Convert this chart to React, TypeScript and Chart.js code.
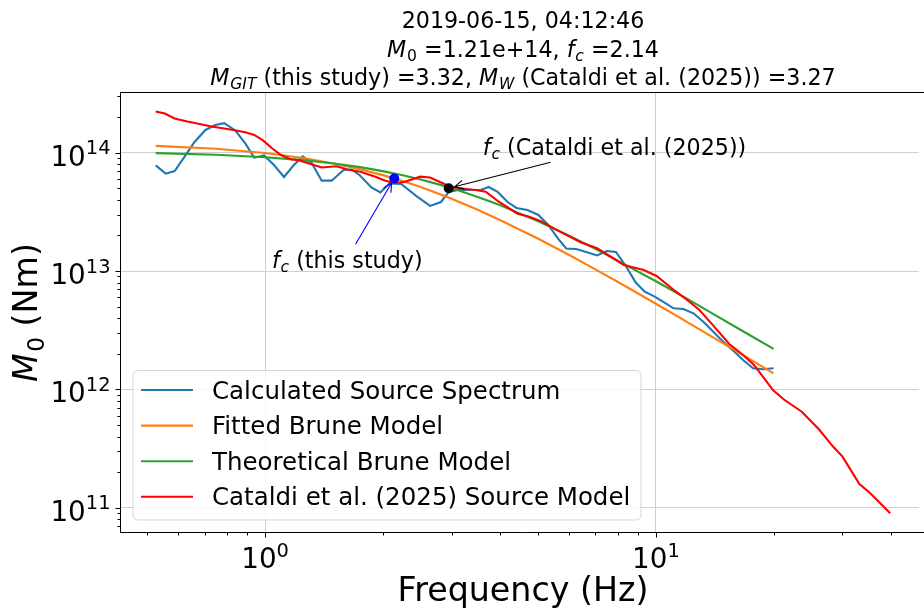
import React, { useEffect, useRef } from 'react';
import { Chart, registerables } from 'chart.js';

Chart.register(...registerables);

// ---------------- data ----------------
const spectrumFreq = [0.525, 0.557, 0.587, 0.622, 0.66, 0.704, 0.746, 0.786, 0.839, 0.89, 0.938, 0.994, 1.054, 1.118, 1.185, 1.249, 1.317, 1.396, 1.48, 1.588, 1.664, 1.744, 1.871, 1.972, 2.079, 2.23, 2.435, 2.643, 2.818, 2.954, 3.114, 3.32, 3.563, 3.734, 3.936, 4.173, 4.399, 4.692, 5.004, 5.304, 5.625, 5.894, 6.249, 6.627, 7.068, 7.494, 7.898, 8.375, 8.88, 9.361, 9.925, 10.52, 11.09, 11.76, 12.47, 13.22, 14.02, 14.86, 15.76, 16.71, 17.72, 18.78, 20.0];
const spectrumM0 = [7.8e13, 6.65e13, 7.0e13, 9.2e13, 1.231e14, 1.555e14, 1.714e14, 1.772e14, 1.54e14, 1.196e14, 9.07e13, 9.47e13, 7.87e13, 6.23e13, 7.87e13, 9.29e13, 8.14e13, 5.8e13, 5.8e13, 7.14e13, 7.21e13, 6.48e13, 5.08e13, 4.61e13, 5.49e13, 5.44e13, 4.31e13, 3.55e13, 3.83e13, 4.66e13, 4.84e13, 4.84e13, 4.84e13, 5.13e13, 4.66e13, 3.83e13, 3.41e13, 3.28e13, 2.98e13, 2.45e13, 1.867e13, 1.552e13, 1.537e13, 1.45e13, 1.354e13, 1.478e13, 1.45e13, 1.104e13, 8.01e12, 6.7e12, 6.08e12, 5.41e12, 4.85e12, 4.79e12, 4.4e12, 3.74e12, 3.08e12, 2.53e12, 2.13e12, 1.775e12, 1.511e12, 1.481e12, 1.511e12];

const modelFreq = [0.525, 0.75, 1.0, 1.25, 1.5, 1.75, 2.0, 2.25, 2.5, 2.75, 3.0, 3.5, 4.0, 5.0, 6.0, 7.0, 8.0, 10.0, 12.0, 14.0, 17.0, 20.0];
const fittedBruneM0 = [1.141e14, 1.078e14, 9.93e13, 9.02e13, 8.11e13, 7.25e13, 6.46e13, 5.75e13, 5.12e13, 4.56e13, 4.08e13, 3.29e13, 2.69e13, 1.873e13, 1.366e13, 1.034e13, 8.08e12, 5.3e12, 3.73e12, 2.76e12, 1.888e12, 1.37e12];
const theoreticalBruneM0 = [9.9e13, 9.6e13, 9.15e13, 8.65e13, 8.1e13, 7.55e13, 6.98e13, 6.44e13, 5.93e13, 5.45e13, 5.02e13, 4.23e13, 3.59e13, 2.63e13, 1.99e13, 1.54e13, 1.22e13, 8.2e12, 5.85e12, 4.35e12, 3.0e12, 2.2e12];

const cataldiFreq = [0.525, 0.554, 0.587, 0.633, 0.68, 0.729, 0.786, 0.844, 0.895, 0.938, 0.988, 1.042, 1.098, 1.164, 1.22, 1.309, 1.396, 1.524, 1.626, 1.754, 1.915, 2.031, 2.141, 2.27, 2.493, 2.643, 2.802, 2.954, 3.132, 3.459, 3.668, 3.936, 4.424, 4.72, 5.063, 5.495, 5.929, 6.435, 7.068, 7.626, 8.277, 9.305, 10.04, 11.15, 12.18, 12.92, 13.86, 15.4, 16.71, 17.82, 18.78, 19.92, 21.25, 23.61, 26.08, 28.31, 30.01, 33.16, 35.35, 39.74];
const cataldiM0 = [2.228e14, 2.143e14, 1.945e14, 1.834e14, 1.747e14, 1.664e14, 1.601e14, 1.54e14, 1.481e14, 1.411e14, 1.268e14, 1.089e14, 9.56e13, 8.8e13, 8.63e13, 8.03e13, 7.5e13, 7.68e13, 7.21e13, 6.91e13, 6.27e13, 5.8e13, 5.55e13, 5.65e13, 6.27e13, 6.17e13, 5.65e13, 5.23e13, 5.0e13, 4.84e13, 4.68e13, 3.91e13, 3.05e13, 2.89e13, 2.65e13, 2.28e13, 2.0e13, 1.744e13, 1.558e13, 1.334e13, 1.126e13, 1.022e13, 9.09e12, 6.86e12, 5.51e12, 4.69e12, 3.62e12, 2.42e12, 1.956e12, 1.61e12, 1.283e12, 9.9e11, 8.23e11, 6.49e11, 4.64e11, 3.33e11, 2.71e11, 1.592e11, 1.328e11, 9.0e10];

const fcThisStudy = { f: 2.14, m0: 6.05e13 };
const fcCataldi = { f: 2.95, m0: 5.0e13 };
// arrow tails / text anchors (data coordinates)
const fcThisStudyArrowFrom = { f: 1.704, m0: 1.684e13 };
const fcThisStudyText = { f: 1.041, m0: 1.062e13 };
const fcCataldiArrowFrom = { f: 5.377, m0: 8.3e13 };
const fcCataldiText = { f: 3.604, m0: 9.56e13 };

const xMajorTicks = [1, 10];
const xTickLabels = ['10^0', '10^1'];
const yMajorTicks = [1e11, 1e12, 1e13, 1e14];
const yTickLabels = ['10^11', '10^12', '10^13', '10^14'];

const xMin = 0.428;
const xMax = 47.1;
const yMin = 6.26e10;
const yMax = 3.19e14;

const seriesLabels = [
  'Calculated Source Spectrum',
  'Fitted Brune Model',
  'Theoretical Brune Model',
  'Cataldi et al. (2025) Source Model',
];
const seriesColors = ['#1f77b4', '#ff7f0e', '#2ca02c', '#ff0000'];

// ---------------- text helpers ----------------
const FONT = '"DejaVu Sans", "Liberation Sans", sans-serif';
type Seg = { t: string; it?: boolean; sub?: boolean; sup?: boolean };

function segFont(s: Seg, size: number) {
  const sz = s.sub || s.sup ? size * 0.7 : size;
  return `${s.it ? 'italic ' : ''}${sz}px ${FONT}`;
}
function segAdvance(ctx: CanvasRenderingContext2D, s: Seg, size: number) {
  ctx.font = segFont(s, size);
  let w = ctx.measureText(s.t).width;
  if (s.it && !s.sub && !s.sup) w += size * 0.04;
  return w;
}
function richWidth(ctx: CanvasRenderingContext2D, segs: Seg[], size: number) {
  let w = 0;
  for (const s of segs) w += segAdvance(ctx, s, size);
  return w;
}
function drawRich(ctx: CanvasRenderingContext2D, segs: Seg[], x: number, y: number, size: number, align: 'left' | 'center' | 'right', color = '#000') {
  const w = richWidth(ctx, segs, size);
  let cx = align === 'center' ? x - w / 2 : align === 'right' ? x - w : x;
  ctx.fillStyle = color;
  ctx.textAlign = 'left';
  ctx.textBaseline = 'alphabetic';
  for (const s of segs) {
    ctx.font = segFont(s, size);
    const dy = s.sub ? size * 0.2 : s.sup ? -size * 0.414 : 0;
    ctx.fillText(s.t, cx, y + dy);
    cx += segAdvance(ctx, s, size);
  }
}
function powerLabel(label: string): Seg[] {
  const [b, e] = label.split('^');
  return [{ t: b }, { t: e, sup: true }];
}

function drawArrow(ctx: CanvasRenderingContext2D, x0: number, y0: number, x1: number, y1: number, color: string, shrink: number) {
  const dx = x1 - x0, dy = y1 - y0;
  const len = Math.hypot(dx, dy);
  const ux = dx / len, uy = dy / len;
  const ex = x1 - ux * shrink, ey = y1 - uy * shrink;
  ctx.strokeStyle = color;
  ctx.lineWidth = 1.1;
  ctx.beginPath();
  ctx.moveTo(x0, y0);
  ctx.lineTo(ex, ey);
  const hl = 9, hw = 4.4;
  const px = -uy, py = ux;
  ctx.moveTo(ex - ux * hl + px * hw, ey - uy * hl + py * hw);
  ctx.lineTo(ex, ey);
  ctx.lineTo(ex - ux * hl - px * hw, ey - uy * hl - py * hw);
  ctx.stroke();
}

const decorPlugin = {
  id: 'decor',
  afterDraw(chart: any) {
    const { ctx, chartArea: a, scales } = chart;
    const xs = scales.x, ys = scales.y;
    ctx.save();

    // spines
    ctx.strokeStyle = '#000';
    ctx.lineWidth = 1;
    const L = Math.round(a.left) - 0.5;
    const B = Math.round(a.bottom) + 0.5;
    const T = Math.round(a.top) - 0.5;
    ctx.beginPath();
    ctx.moveTo(L, T); ctx.lineTo(a.right + 5, T);
    ctx.moveTo(L, T); ctx.lineTo(L, B); ctx.lineTo(a.right + 5, B);
    ctx.stroke();

    // tick marks (major & minor)
    ctx.beginPath();
    for (let e = -1; e <= 1; e++) {
      for (let m = 1; m <= 9; m++) {
        const v = m * Math.pow(10, e);
        if (v < xMin || v > xMax) continue;
        const px = Math.round(xs.getPixelForValue(v)) + 0.5;
        const len = m === 1 ? 5 : 3;
        ctx.moveTo(px, B); ctx.lineTo(px, B + len);
      }
    }
    for (let e = 10; e <= 14; e++) {
      for (let m = 1; m <= 9; m++) {
        const v = m * Math.pow(10, e);
        if (v < yMin || v > yMax) continue;
        const py = Math.round(ys.getPixelForValue(v)) + 0.5;
        const len = m === 1 ? 5 : 3;
        ctx.moveTo(L, py); ctx.lineTo(L - len, py);
      }
    }
    ctx.stroke();

    // tick labels
    const tickSize = 27.8;
    xMajorTicks.forEach((v, i) => {
      const px = xs.getPixelForValue(v);
      drawRich(ctx, powerLabel(xTickLabels[i]), px, B + 10 + 25.7, tickSize, 'center');
    });
    yMajorTicks.forEach((v, i) => {
      const py = ys.getPixelForValue(v);
      drawRich(ctx, powerLabel(yTickLabels[i]), L - 10, py + 13, tickSize, 'right');
    });

    // axis labels
    const cx = (a.left + a.right) / 2 + 3;
    drawRich(ctx, [{ t: 'Frequency (Hz)' }], cx, 601, 33.3, 'center');
    ctx.save();
    ctx.translate(37, (a.top + a.bottom) / 2);
    ctx.rotate(-Math.PI / 2);
    drawRich(ctx, [{ t: 'M', it: true }, { t: '0', sub: true }, { t: ' (Nm)' }], 0, 0, 33.3, 'center');
    ctx.restore();

    // title
    const ts = 22.2;
    drawRich(ctx, [{ t: '2019-06-15, 04:12:46' }], cx, 28, ts, 'center');
    drawRich(ctx, [
      { t: 'M', it: true }, { t: '0', sub: true }, { t: ' =1.21e+14, ' },
      { t: 'f', it: true }, { t: 'c', it: true, sub: true }, { t: ' =2.14' },
    ], cx, 56.5, ts, 'center');
    drawRich(ctx, [
      { t: 'M', it: true }, { t: 'GIT', it: true, sub: true }, { t: ' (this study) =3.32, ' },
      { t: 'M', it: true }, { t: 'W', it: true, sub: true }, { t: ' (Cataldi et al. (2025)) =3.27' },
    ], cx, 84.5, ts, 'center');

    // annotations
    const p = (o: { f: number; m0: number }) => [xs.getPixelForValue(o.f), ys.getPixelForValue(o.m0)];
    const [bx0, by0] = p(fcThisStudyArrowFrom);
    const [bx1, by1] = p(fcThisStudy);
    drawArrow(ctx, bx0, by0, bx1, by1, '#0000ff', 5);
    const [kx0, ky0] = p(fcCataldiArrowFrom);
    const [kx1, ky1] = p(fcCataldi);
    drawArrow(ctx, kx0, ky0, kx1, ky1, '#000000', 6);
    const [btx, bty] = p(fcThisStudyText);
    drawRich(ctx, [{ t: 'f', it: true }, { t: 'c', it: true, sub: true }, { t: ' (this study)' }], btx, bty, 22.2, 'left');
    const [ktx, kty] = p(fcCataldiText);
    drawRich(ctx, [{ t: 'f', it: true }, { t: 'c', it: true, sub: true }, { t: ' (Cataldi et al. (2025))' }], ktx, kty, 22.2, 'left');

    // legend
    const lx = a.left + 12, ly = 370.5, lw = 508, lh = 149.5, r = 5;
    ctx.beginPath();
    ctx.moveTo(lx + r, ly);
    ctx.arcTo(lx + lw, ly, lx + lw, ly + lh, r);
    ctx.arcTo(lx + lw, ly + lh, lx, ly + lh, r);
    ctx.arcTo(lx, ly + lh, lx, ly, r);
    ctx.arcTo(lx, ly, lx + lw, ly, r);
    ctx.closePath();
    ctx.fillStyle = 'rgba(255,255,255,0.8)';
    ctx.fill();
    ctx.strokeStyle = 'rgba(204,204,204,0.8)';
    ctx.lineWidth = 1;
    ctx.stroke();
    seriesLabels.forEach((lab, i) => {
      const yy = 390 + i * 35.6;
      ctx.strokeStyle = seriesColors[i];
      ctx.lineWidth = 2.1;
      ctx.beginPath();
      ctx.moveTo(lx + 8, yy); ctx.lineTo(lx + 60, yy);
      ctx.stroke();
      drawRich(ctx, [{ t: lab }], lx + 79, yy + 8.5, 24.5, 'left');
    });

    ctx.restore();
  },
};

function pts(xsArr: number[], ysArr: number[]) {
  return xsArr.map((x, i) => ({ x, y: ysArr[i] }));
}

export default function App() {
  const ref = useRef<HTMLCanvasElement | null>(null);
  useEffect(() => {
    if (!ref.current) return;
    const lineDs = (label: string, data: any[], color: string, order: number) => ({
      label, data, borderColor: color, backgroundColor: color, showLine: true,
      pointRadius: 0, borderWidth: 2.1, order, tension: 0,
    });
    const chart = new Chart(ref.current, {
      type: 'scatter',
      data: {
        datasets: [
          lineDs(seriesLabels[0], pts(spectrumFreq, spectrumM0), seriesColors[0], 5),
          lineDs(seriesLabels[1], pts(modelFreq, fittedBruneM0), seriesColors[1], 4),
          lineDs(seriesLabels[2], pts(modelFreq, theoreticalBruneM0), seriesColors[2], 3),
          lineDs(seriesLabels[3], pts(cataldiFreq, cataldiM0), seriesColors[3], 2),
          { label: 'fc this study', data: [{ x: fcThisStudy.f, y: fcThisStudy.m0 }], pointRadius: 5, backgroundColor: '#0000ff', borderColor: '#0000ff', borderWidth: 0, showLine: false, order: 1 } as any,
          { label: 'fc Cataldi', data: [{ x: fcCataldi.f, y: fcCataldi.m0 }], pointRadius: 5, backgroundColor: '#000000', borderColor: '#000000', borderWidth: 0, showLine: false, order: 0 } as any,
        ],
      },
      options: {
        responsive: false,
        animation: false,
        events: [],
        layout: { padding: { left: 121, top: 93, right: 0, bottom: 81 } },
        plugins: { legend: { display: false }, tooltip: { enabled: false }, title: { display: false } },
        scales: {
          x: {
            type: 'logarithmic', min: xMin, max: xMax, bounds: 'data',
            afterBuildTicks: (s: any) => { s.ticks = xMajorTicks.map((v) => ({ value: v })); },
            ticks: { display: false },
            grid: { color: '#cfcfcf', lineWidth: 1, drawTicks: false },
            border: { display: false },
            title: { display: false },
          },
          y: {
            type: 'logarithmic', min: yMin, max: yMax, bounds: 'data',
            afterBuildTicks: (s: any) => { s.ticks = yMajorTicks.map((v) => ({ value: v })); },
            ticks: { display: false },
            grid: { color: '#cfcfcf', lineWidth: 1, drawTicks: false },
            border: { display: false },
            title: { display: false },
          },
        },
      },
      plugins: [decorPlugin],
    } as any);
    return () => chart.destroy();
  }, []);
  return (
    <div style={{ position: 'absolute', left: 0, top: 0, width: 924, height: 613, background: '#fff' }}>
      <canvas ref={ref} width={924} height={613} style={{ width: 924, height: 613 }} />
    </div>
  );
}
